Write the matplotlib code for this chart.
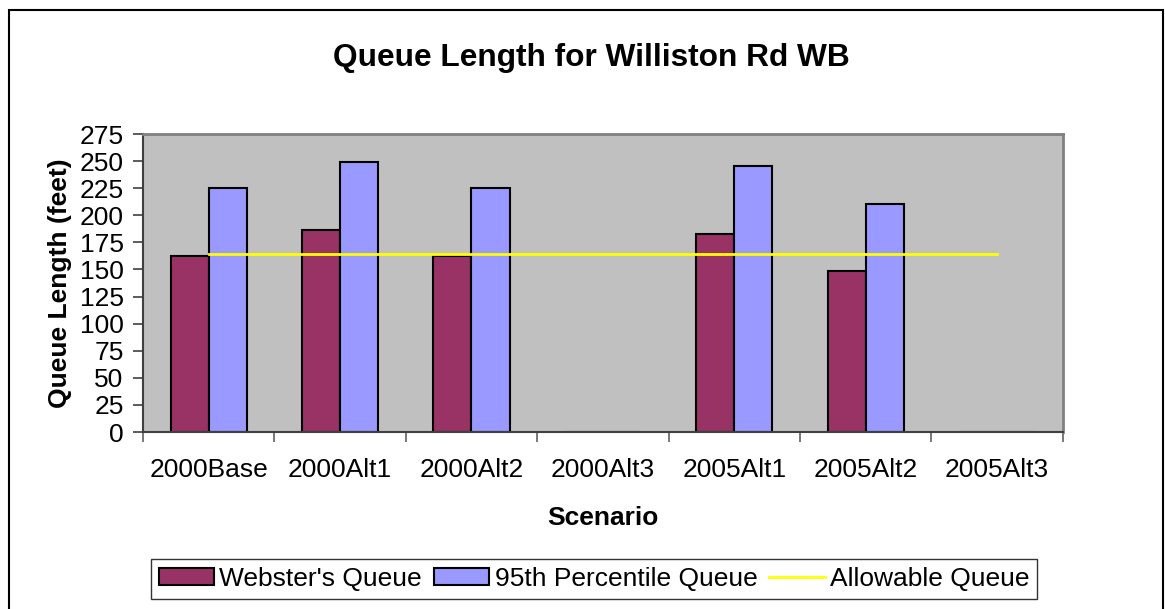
import matplotlib.pyplot as plt
from matplotlib.patches import Rectangle
from matplotlib.ticker import FixedLocator
import numpy as np

plt.rcParams['font.family'] = ['Liberation Sans', 'DejaVu Sans']

scenarios = ['2000Base', '2000Alt1', '2000Alt2', '2000Alt3', '2005Alt1', '2005Alt2', '2005Alt3']
websters = [162.5, 186.5, 162.5, 0, 182.5, 149, 0]
pct95 = [225, 249, 225, 0, 245.5, 210.5, 0]
allowable = [164, 164, 164, 164, 164, 164, 164]

fig = plt.figure(figsize=(11.65, 6.09), dpi=100)
ax = fig.add_axes([0.1227, 0.2906, 0.7895, 0.4893])
ax.set_facecolor('#C0C0C0')

x = np.arange(len(scenarios))
w = 0.29
b1 = ax.bar(x - w / 2, websters, w, color='#993366', edgecolor='black', linewidth=1.5,
            label="Webster's Queue", zorder=2)
b2 = ax.bar(x + w / 2, pct95, w, color='#9999FF', edgecolor='black', linewidth=1.5,
            label='95th Percentile Queue', zorder=2)
ln, = ax.plot(x, allowable, color='#FFFF00', linewidth=2, label='Allowable Queue', zorder=3)

ax.set_xlim(-0.5, len(scenarios) - 0.5)
ax.set_ylim(0, 275)
ax.set_yticks(np.arange(0, 276, 25))
ax.tick_params(axis='y', direction='out', length=7, width=1.2, color='#404040',
               labelsize=19, pad=7)

ax.set_xticks(x)
ax.set_xticklabels(scenarios)
ax.tick_params(axis='x', which='major', length=0, labelsize=19, pad=19)
ax.xaxis.set_minor_locator(FixedLocator(np.arange(-0.5, len(scenarios), 1.0)))
ax.tick_params(axis='x', which='minor', direction='out', length=7, width=1.2, color='#606060')

for s in ['left', 'bottom']:
    ax.spines[s].set_color('#404040')
    ax.spines[s].set_linewidth(1.5)
for s in ['top', 'right']:
    ax.spines[s].set_color('#808080')
    ax.spines[s].set_linewidth(2)

ax.set_xlabel('Scenario', fontsize=19, fontweight='bold', labelpad=17)
ax.set_ylabel('Queue Length (feet)', fontsize=19, fontweight='bold')
ax.yaxis.set_label_coords(-0.077, 0.5)
fig.text(0.508, 0.905, 'Queue Length for Williston Rd WB', fontsize=22.8,
         fontweight='bold', ha='center', va='center')

leg = fig.legend([b1, b2, ln], ["Webster's Queue", '95th Percentile Queue', 'Allowable Queue'],
                 loc='center', bbox_to_anchor=(0.51, 0.049), ncol=3, fontsize=19,
                 frameon=True, fancybox=False, edgecolor='black', handlelength=2.1,
                 handleheight=0.6, handletextpad=0.2, columnspacing=0.45,
                 borderpad=0.3, borderaxespad=0)
leg.get_frame().set_linewidth(1)

# outer chart border
fig.patches.append(Rectangle((0.0077, -0.05), 0.9905, 1.0336, transform=fig.transFigure,
                             fill=False, edgecolor='black', linewidth=1.5))

plt.savefig('out.png', dpi=100)
